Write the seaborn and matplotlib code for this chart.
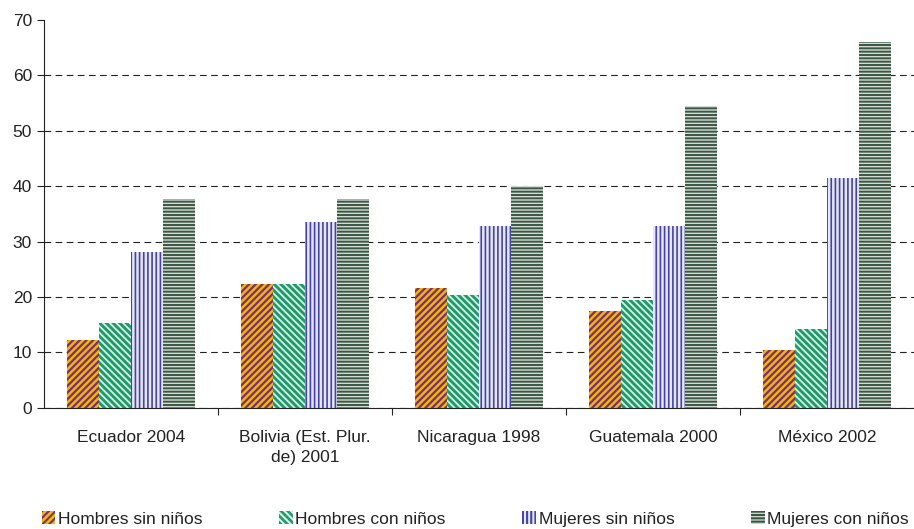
import numpy as np
import pandas as pd
import matplotlib
matplotlib.use("Agg")
import matplotlib.pyplot as plt
import seaborn as sns
from matplotlib.patches import Patch

# data
countries = ['Ecuador 2004', 'Bolivia (Est. Plur.\nde) 2001', 'Nicaragua 1998',
             'Guatemala 2000', 'México 2002']
series = ['Hombres sin niños', 'Hombres con niños', 'Mujeres sin niños', 'Mujeres con niños']
hombres_sin = [12.2, 22.3, 21.6, 17.4, 10.4]
hombres_con = [15.3, 22.4, 20.3, 19.5, 14.3]
mujeres_sin = [28.1, 33.5, 32.8, 32.8, 41.5]
mujeres_con = [37.7, 37.7, 40.0, 54.5, 66.1]

df = pd.DataFrame({
    'pais': countries * 4,
    'grupo': np.repeat(series, len(countries)),
    'valor': hombres_sin + hombres_con + mujeres_sin + mujeres_con,
})

sns.set_style('white')
plt.rcParams['font.family'] = ['Liberation Sans', 'DejaVu Sans']
plt.rcParams['hatch.linewidth'] = 1.5

fig = plt.figure(figsize=(9.14, 5.29), dpi=100)
ax = fig.add_axes([0.048, 0.229, 0.952, 0.733])

faces = ['#F2B705', '#1E9A6C', '#E6E6F6', '#D3DBD5']
hatch_cols = ['#7A2E78', '#D9F0E4', '#4444A6', '#3B5642']
hatches = ['/////', '\\\\\\\\\\', '||||', '-----']
hatch_lw = [1.6, 1.3, 1.2, 1.4]

sns.barplot(data=df, x='pais', y='valor', hue='grupo', hue_order=series,
            order=countries, width=0.735, palette=faces, ax=ax, errorbar=None,
            saturation=1, legend=False)

for i, cont in enumerate(ax.containers):
    for p in cont:
        p.set_facecolor(faces[i])
        p.set_hatch(hatches[i])
        p.set_edgecolor(hatch_cols[i])
        p.set_linewidth(0)
        if hasattr(p, 'set_hatch_linewidth'):
            p.set_hatch_linewidth(hatch_lw[i])

ax.set_ylim(0, 70)
ax.set_xlim(-0.5, len(countries) - 0.5)
ax.set_yticks(range(0, 71, 10))
ax.yaxis.grid(True, linestyle=(0, (6, 4)), color='#222222', linewidth=0.8)
ax.get_ygridlines()[-1].set_visible(False)
ax.set_axisbelow(True)
ax.set_xlabel('')
ax.set_ylabel('')

# x ticks at category boundaries, labels in the middle
ax.set_xticks(np.arange(0.5, len(countries) - 0.5, 1), minor=False)
ax.set_xticklabels([])
ax.set_xticks(range(len(countries)), minor=True)
ax.set_xticklabels(countries, minor=True, fontsize=12.5, color='#222222',
                   linespacing=1.45)
ax.tick_params(axis='x', which='minor', length=0, pad=16, bottom=False)
ax.tick_params(axis='x', which='major', length=5, direction='out', color='#222222',
               bottom=True)
ax.tick_params(axis='y', length=5, direction='out', color='#222222', labelsize=12.5,
               labelcolor='#222222', left=True)

for s in ['top', 'right']:
    ax.spines[s].set_visible(False)
ax.spines['left'].set_color('#222222')
ax.spines['bottom'].set_color('#222222')

handles = []
for i in range(4):
    h = Patch(facecolor=faces[i], edgecolor=hatch_cols[i], hatch=hatches[i],
              linewidth=0, label=series[i])
    if hasattr(h, 'set_hatch_linewidth'):
        h.set_hatch_linewidth(hatch_lw[i])
    handles.append(h)
fig.legend(handles=handles, loc='lower center', bbox_to_anchor=(0.52, -0.025), ncol=4,
           frameon=False, fontsize=12.5, handlelength=0.8, handleheight=0.8,
           handletextpad=0.15, columnspacing=4.4, labelcolor='#222222')

fig.savefig('out.png', dpi=100)
